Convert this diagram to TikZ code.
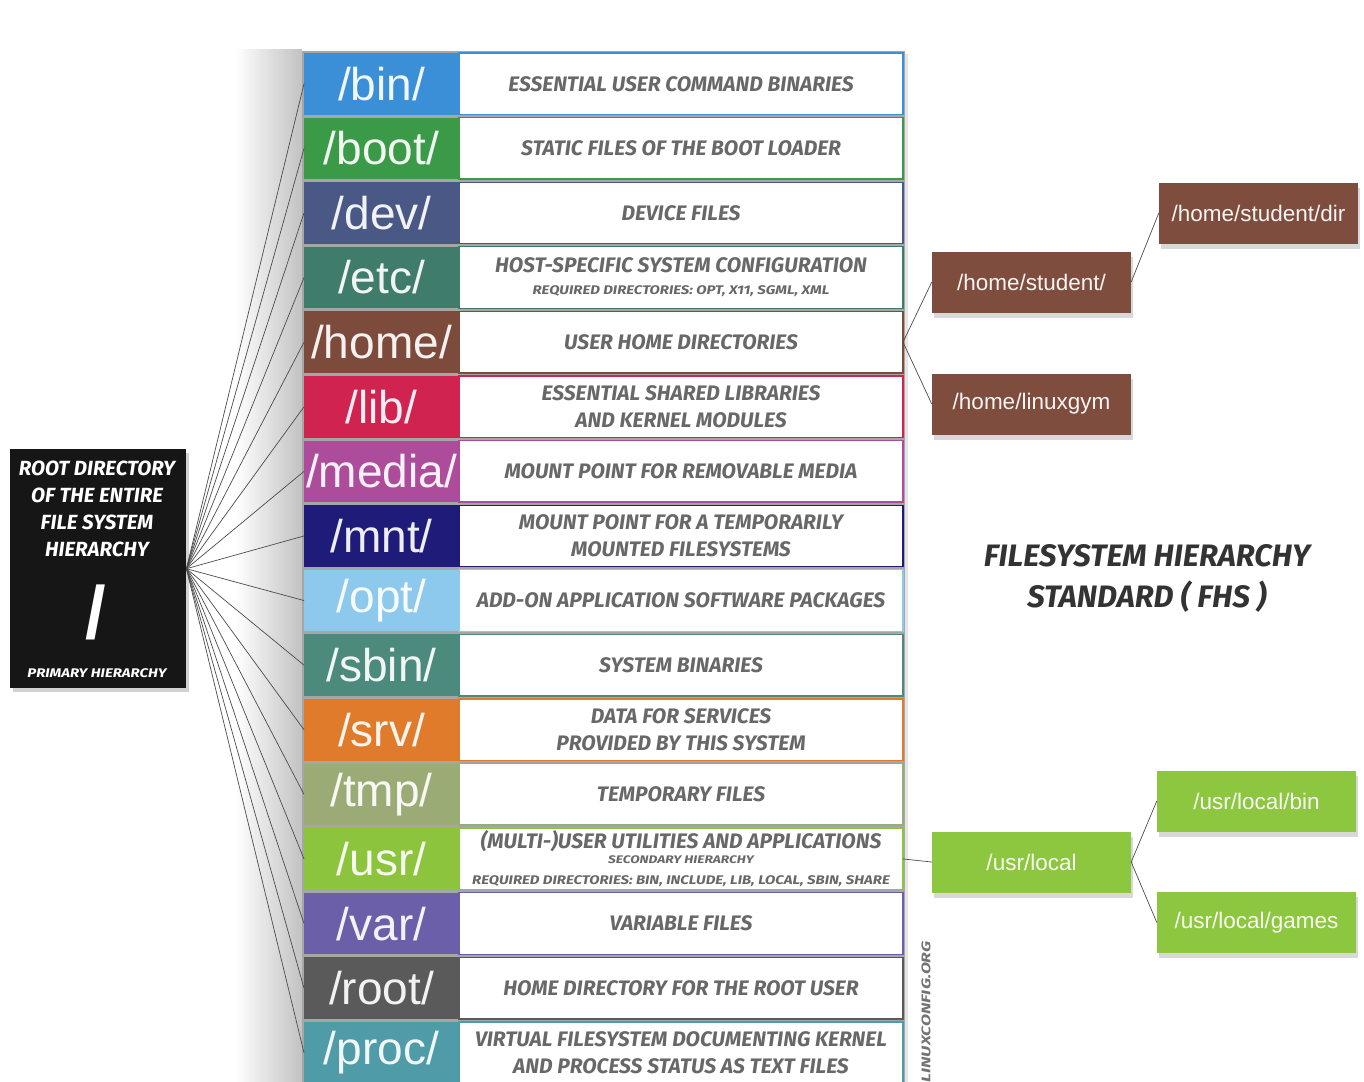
\documentclass[tikz,border=0pt]{standalone}
\usepackage{fontspec}
\usepackage{graphicx}
\setmainfont{Liberation Sans}
\newfontfamily\descfont{Fira Sans}
\usetikzlibrary{shadows}
\definecolor{cbin}{HTML}{3A8FD6}
\definecolor{cboot}{HTML}{3A9A48}
\definecolor{cdev}{HTML}{4A5885}
\definecolor{cetc}{HTML}{3F7C6C}
\definecolor{chome}{HTML}{7C4B3B}
\definecolor{clib}{HTML}{D0234F}
\definecolor{cmedia}{HTML}{AE4C9C}
\definecolor{cmnt}{HTML}{1F1B78}
\definecolor{copt}{HTML}{8DC9EC}
\definecolor{csbin}{HTML}{4B8A7D}
\definecolor{csrv}{HTML}{E07B2B}
\definecolor{ctmp}{HTML}{9BAB75}
\definecolor{cusr}{HTML}{8CC43D}
\definecolor{cvar}{HTML}{6A5FA8}
\definecolor{croot}{HTML}{5A5A5A}
\definecolor{cproc}{HTML}{4F9BA8}
\definecolor{rootc}{HTML}{161616}
\definecolor{dtext}{HTML}{686868}
\definecolor{titlec}{HTML}{333333}
\definecolor{homebox}{HTML}{7E4D3E}
\definecolor{usrbox}{HTML}{8DC63F}

\newcommand\smalld[1]{{\fontsize{12.5}{13}\selectfont\scalebox{1.2}[1]{#1}}}
\newcommand\tinyd[1]{{\fontsize{11}{11}\selectfont\scalebox{1.25}[1]{#1}}}
\newcommand\fhsrow[5]{%
  \node[lbl=#3] (#1) at (304,{53+64.6*#2}) {#4};
  \node[dsc=#3] (#1d) at (459,{53+64.6*#2}) {#5};
  \draw[conn] (root.east) -- (#1.west);
}

\begin{document}
\begin{tikzpicture}[x=1pt,y=-1pt,
 conn/.style={draw=black!70, line width=0.7pt},
 lbl/.style={fill=#1, text=#1!8!white, minimum width=155pt, minimum height=61.5pt, inner sep=0pt, outer sep=0pt, anchor=north west, font=\fontsize{46}{46}\selectfont},
 dsc/.style={draw=#1, fill=white, line width=1.3pt, minimum width=444pt, minimum height=61.5pt, inner sep=0pt, outer sep=0pt, anchor=north west, align=center, text=dtext, font=\descfont\bfseries\itshape\fontsize{21}{25}\selectfont},
 side/.style={fill=#1, text=#1!6!white, minimum width=199pt, minimum height=61pt, inner sep=0pt, font=\fontsize{22.5}{22.5}\selectfont, drop shadow={opacity=0.3, shadow xshift=2pt, shadow yshift=-5pt}},
 wtxt/.style={text=white, inner sep=0pt, align=center, font=\descfont\bfseries\itshape\fontsize{20.5}{27}\selectfont},
]
\useasboundingbox (0,0) rectangle (1364,1081);
\fill[white] (0,0) rectangle (1364,1081);

% soft shadow left of the column
\shade[left color=white, right color=black!24] (235,50) rectangle (302,1081);
% column background (gaps between rows)
\node[fill=black!35, minimum width=603pt, minimum height=1040pt, inner sep=0pt, anchor=north west, drop shadow={opacity=0.2, shadow xshift=3pt, shadow yshift=-3pt}] (col) at (302,51) {};

% root box
\node[fill=rootc, minimum width=176pt, minimum height=239pt, inner sep=0pt, anchor=north west, drop shadow={opacity=0.35, shadow xshift=3pt, shadow yshift=-4pt}] (root) at (10,449) {};
\node[wtxt, anchor=north] (roottxt) at (97,461) {ROOT DIRECTORY\\OF THE ENTIRE\\FILE SYSTEM\\HIERARCHY};
\node[text=white, inner sep=0pt, font=\bfseries\fontsize{74}{74}\selectfont] (rootslash) at (96,612) {/};
\node[wtxt] (rootprim) at (97,673) {\smalld{PRIMARY HIERARCHY}};

% rows
\fhsrow{bin}{0}{cbin}{/bin/}{ESSENTIAL USER COMMAND BINARIES}
\fhsrow{boot}{1}{cboot}{/boot/}{STATIC FILES OF THE BOOT LOADER}
\fhsrow{dev}{2}{cdev}{/dev/}{DEVICE FILES}
\fhsrow{etc}{3}{cetc}{/etc/}{HOST-SPECIFIC SYSTEM CONFIGURATION\\[-3pt]\smalld{REQUIRED DIRECTORIES: OPT, X11, SGML, XML}}
\fhsrow{home}{4}{chome}{/home/}{USER HOME DIRECTORIES}
\fhsrow{lib}{5}{clib}{/lib/}{ESSENTIAL SHARED LIBRARIES\\[2pt]AND KERNEL MODULES}
\fhsrow{media}{6}{cmedia}{/media/}{MOUNT POINT FOR REMOVABLE MEDIA}
\fhsrow{mnt}{7}{cmnt}{/mnt/}{MOUNT POINT FOR A TEMPORARILY\\[2pt]MOUNTED FILESYSTEMS}
\fhsrow{opt}{8}{copt}{/opt/}{ADD-ON APPLICATION SOFTWARE PACKAGES}
\fhsrow{sbin}{9}{csbin}{/sbin/}{SYSTEM BINARIES}
\fhsrow{srv}{10}{csrv}{/srv/}{DATA FOR SERVICES\\[2pt]PROVIDED BY THIS SYSTEM}
\fhsrow{tmp}{11}{ctmp}{/tmp/}{TEMPORARY FILES}
\fhsrow{usr}{12}{cusr}{/usr/}{(MULTI-)USER UTILITIES AND APPLICATIONS\\[-10pt]\tinyd{SECONDARY HIERARCHY}\\[-4pt]\smalld{REQUIRED DIRECTORIES: BIN, INCLUDE, LIB, LOCAL, SBIN, SHARE}}
\fhsrow{var}{13}{cvar}{/var/}{VARIABLE FILES}
\fhsrow{rootdir}{14}{croot}{/root/}{HOME DIRECTORY FOR THE ROOT USER}
\fhsrow{proc}{15}{cproc}{/proc/}{VIRTUAL FILESYSTEM DOCUMENTING KERNEL\\[2pt]AND PROCESS STATUS AS TEXT FILES}

% watermark
\node[rotate=90, inner sep=0pt, text=black!55, font=\descfont\bfseries\itshape\fontsize{12.5}{12.5}\selectfont] (wm) at (926,1012) {\scalebox{1.4}[1]{LINUXCONFIG.ORG}};

% right side
\node[side=homebox] (hs) at (1031.5,282) {/home/student/};
\node[side=homebox] (hl) at (1031.5,404) {/home/linuxgym};
\node[side=homebox] (hsd) at (1258.5,213) {/home/student/dir};
\node[side=usrbox] (ul) at (1031.5,862) {/usr/local};
\node[side=usrbox] (ulb) at (1256.5,801) {/usr/local/bin};
\node[side=usrbox] (ulg) at (1256.5,922.5) {/usr/local/games};

\draw[conn] (homed.east) -- (hs.west);
\draw[conn] (homed.east) -- (hl.west);
\draw[conn] (hs.east) -- (hsd.west);
\draw[conn] (usrd.east) -- (ul.west);
\draw[conn] (ul.east) -- (ulb.west);
\draw[conn] (ul.east) -- (ulg.west);

% title
\node[align=center, text=titlec, font=\descfont\bfseries\itshape\fontsize{31}{41}\selectfont] (title) at (1147,578) {FILESYSTEM HIERARCHY\\STANDARD ( FHS )};
\end{tikzpicture}
\end{document}
